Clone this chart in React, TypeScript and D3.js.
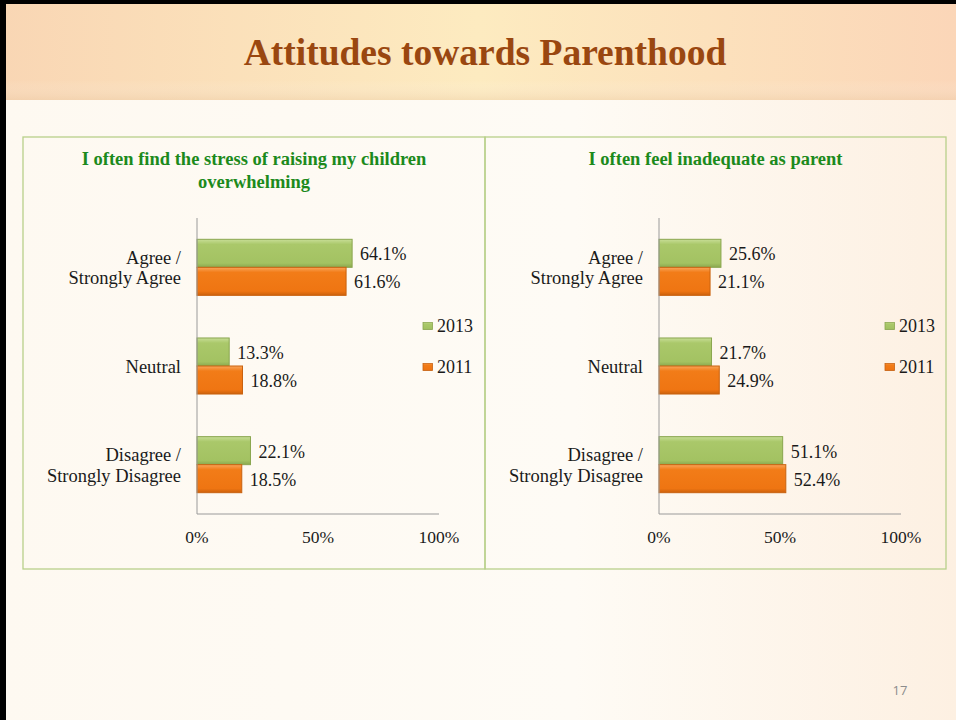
import React from 'react';
import * as d3 from 'd3';

const W = 956;
const H = 720;

const categories = ['Agree / Strongly Agree', 'Neutral', 'Disagree / Strongly Disagree'];
const categoryLines: string[][] = [['Agree /', 'Strongly Agree'], ['Neutral'], ['Disagree /', 'Strongly Disagree']];
const years = ['2013', '2011'];

const stress2013 = [64.1, 13.3, 22.1];
const stress2011 = [61.6, 18.8, 18.5];
const inadequate2013 = [25.6, 21.7, 51.1];
const inadequate2011 = [21.1, 24.9, 52.4];

const xTicks = [0, 50, 100];

const SERIF = '"Liberation Serif", "Times New Roman", serif';
const YEAR_FILL: Record<string, string> = { '2013': 'url(#gGreen)', '2011': 'url(#gOrange)' };
const YEAR_STROKE: Record<string, string> = { '2013': '#8aa64f', '2011': '#c9620f' };

type PanelProps = {
  title: string[];
  left: number;
  right: number;
  x0: number;
  x1: number;
  values: Record<string, number[]>;
};

function Panel({ title, left, right, x0, x1, values }: PanelProps) {
  const top = 137, bottom = 569;
  const plotTop = 218, plotBottom = 514;
  const x = d3.scaleLinear().domain([0, 100]).range([x0, x1]);
  const y = d3.scaleBand<string>().domain(categories).range([plotTop, plotBottom]).paddingInner(0.432).paddingOuter(0.216);
  const ys = d3.scaleBand<string>().domain(years).range([0, y.bandwidth()]);
  const cx = (left + right) / 2;

  return (
    <g>
      <rect x={left} y={top} width={right - left} height={bottom - top} fill="none" stroke="#b8d08a" strokeWidth={1.3} />
      {title.map((t, i) => (
        <text key={t} x={cx} y={161 + i * 22.5} textAnchor="middle" dominantBaseline="middle"
          fontFamily={SERIF} fontWeight="bold" fontSize={18.5} fill="#1c8a1c">{t}</text>
      ))}

      {categories.map((c, ci) => (
        <g key={c}>
          {years.map((yr) => {
            const v = values[yr][ci];
            const by = (y(c) ?? 0) + (ys(yr) ?? 0);
            return (
              <g key={yr}>
                <rect x={x(0)} y={by} width={x(v) - x(0)} height={ys.bandwidth()}
                  fill={YEAR_FILL[yr]} stroke={YEAR_STROKE[yr]} strokeWidth={1} />
                <text x={x(v) + 8} y={by + ys.bandwidth() / 2 + 3} dominantBaseline="middle"
                  fontFamily={SERIF} fontSize={18} fill="#1a1a1a">{v.toFixed(1)}%</text>
              </g>
            );
          })}
          {categoryLines[ci].map((line, li) => {
            const n = categoryLines[ci].length;
            const cy = (y(c) ?? 0) + y.bandwidth() / 2 + 2.5 + (li - (n - 1) / 2) * 20.5;
            return (
              <text key={line} x={x0 - 16} y={cy} textAnchor="end" dominantBaseline="middle"
                fontFamily={SERIF} fontSize={18.5} fill="#1a1a1a">{line}</text>
            );
          })}
        </g>
      ))}

      <line x1={x0} x2={x0} y1={plotTop} y2={plotBottom} stroke="#9a9a9a" strokeWidth={1} />
      <line x1={x0} x2={x1} y1={plotBottom} y2={plotBottom} stroke="#9a9a9a" strokeWidth={1} />
      {xTicks.map((t) => (
        <text key={t} x={x(t)} y={539} textAnchor="middle" dominantBaseline="middle"
          fontFamily={SERIF} fontSize={17.5} fill="#1a1a1a">{t}%</text>
      ))}

      {years.map((yr, i) => {
        const ly = 326 + i * 41;
        return (
          <g key={yr}>
            <rect x={x1 - 16} y={ly - 3.5} width={9.5} height={7} fill={YEAR_FILL[yr]} stroke={YEAR_STROKE[yr]} strokeWidth={0.8} />
            <text x={x1 - 2} y={ly + 2} dominantBaseline="middle" fontFamily={SERIF} fontSize={18} fill="#1a1a1a">{yr}</text>
          </g>
        );
      })}
    </g>
  );
}

export default function App() {
  return (
    <div style={{ position: 'absolute', left: 0, top: 0 }}>
      <svg width={W} height={H} viewBox={`0 0 ${W} ${H}`} style={{ display: 'block' }}>
        <defs>
          <linearGradient id="gHeader" x1="0" x2="1" y1="0" y2="0">
            <stop offset="0" stopColor="#f9d6b4" />
            <stop offset="0.5" stopColor="#fdebc0" />
            <stop offset="1" stopColor="#fbd6b8" />
          </linearGradient>
          <linearGradient id="gHeaderV" x1="0" x2="0" y1="0" y2="1">
            <stop offset="0" stopColor="#ffffff" stopOpacity={0} />
            <stop offset="0.8" stopColor="#ffffff" stopOpacity={0} />
            <stop offset="1" stopColor="#e8c8a4" stopOpacity={0.35} />
          </linearGradient>
          <linearGradient id="gBody" x1="0" x2="1" y1="0" y2="0">
            <stop offset="0" stopColor="#fef9f1" />
            <stop offset="0.6" stopColor="#fefbf5" />
            <stop offset="1" stopColor="#fdf0e2" />
          </linearGradient>
          <linearGradient id="gGreen" x1="0" x2="0" y1="0" y2="1">
            <stop offset="0" stopColor="#c8de97" />
            <stop offset="0.18" stopColor="#aac86a" />
            <stop offset="0.85" stopColor="#a3c262" />
            <stop offset="1" stopColor="#8aa84e" />
          </linearGradient>
          <linearGradient id="gOrange" x1="0" x2="0" y1="0" y2="1">
            <stop offset="0" stopColor="#f9a55b" />
            <stop offset="0.18" stopColor="#f27c18" />
            <stop offset="0.85" stopColor="#ef7512" />
            <stop offset="1" stopColor="#cc610c" />
          </linearGradient>
        </defs>

        <rect x={0} y={0} width={W} height={H} fill="url(#gBody)" />
        <rect x={0} y={0} width={W} height={100} fill="url(#gHeader)" />
        <rect x={0} y={0} width={W} height={100} fill="url(#gHeaderV)" />
        <rect x={0} y={0} width={W} height={4} fill="#000" />
        <rect x={0} y={0} width={6} height={H} fill="#000" />

        <text x={485} y={56} textAnchor="middle" dominantBaseline="middle" fontFamily={SERIF}
          fontWeight="bold" fontSize={37.5} fill="#9a4710">Attitudes towards Parenthood</text>

        <Panel title={['I often find the stress of raising my children', 'overwhelming']}
          left={23} right={485} x0={197} x1={439}
          values={{ '2013': stress2013, '2011': stress2011 }} />
        <Panel title={['I often feel inadequate as parent']}
          left={485} right={946} x0={659} x1={901}
          values={{ '2013': inadequate2013, '2011': inadequate2011 }} />

        <text x={900} y={692} textAnchor="middle" dominantBaseline="middle"
          fontFamily='"Open Sans", "Liberation Sans", sans-serif' fontSize={13} fill="#8c8c8c">17</text>
      </svg>
    </div>
  );
}
